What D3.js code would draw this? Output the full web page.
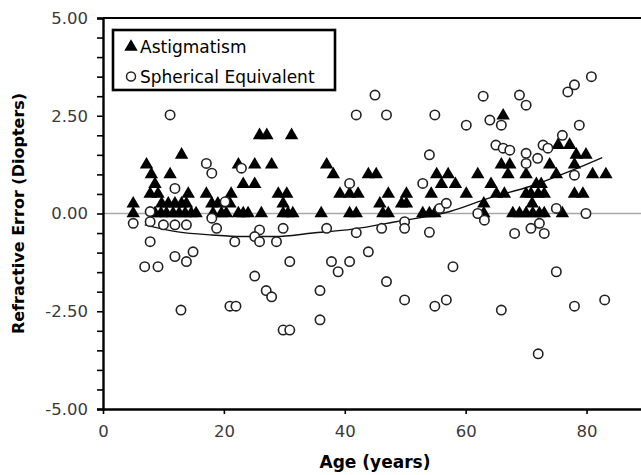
<!DOCTYPE html>
<html>
<head>
<meta charset="utf-8">
<script src="https://cdn.jsdelivr.net/npm/d3@7"></script>
<style>
body { margin: 0; background: #fff; }
svg { display: block; }
text { font-family: "DejaVu Sans", Verdana, sans-serif; }
</style>
</head>
<body>
<svg id="chart" width="641" height="475"></svg>
<script>
// astigmatism: [age, diopters]
var astigmatism = [
[5,0.25],[5,0],[7.2,1.25],[8,1.0],[7.8,0.5],[9.1,0.5],[8.6,0.75],[9.7,0.25],[10.8,0.25],[11.9,0.25],
[13,0.25],[11.1,1.0],[13,1.5],[14.1,0.5],[13.8,0.25],[8.6,0],[9.6,0],[10.5,0],[11.6,0],[12.6,0],
[13.6,0],[14.6,0],[15.4,0],[17.1,0.5],[18,0.25],[19,0.25],[18.2,0],[19.6,0],[21,0.25],[21.2,0.5],
[20.4,0],[22.4,1.25],[25.1,1.25],[27.9,1.25],[25.9,2.0],[27.1,2.0],[31.2,2.0],[23.2,0.75],[25.1,0.75],
[22.4,0],[23.2,0],[24,0],[26.2,0],[29,0.5],[30.4,0.5],[29.8,0.25],[29.8,0],[30.6,0],[31.4,0],
[36.1,0],[37,1.25],[38.1,1.0],[39.2,0.5],[40.8,0.5],[42.2,0.5],[40.8,0],[41.9,0],[43.9,1.0],[45.2,1.0],
[45.8,0.25],[46.3,0],[47.2,0],[47.2,0.5],[49.4,0.25],[50.2,0.25],[50.2,0.5],[52.9,0],[54,0],[54.9,0],
[54.3,0.5],[55.2,1.0],[57.1,1.0],[56,0.75],[58.3,0.75],[60.1,0.5],[62,1.0],[63,0.25],[63,0],[64.2,0.75],
[65.1,0.5],[65.9,1.25],[66.2,2.5],[66.4,0.5],[67.3,1.25],[67,1.0],[67.8,0],[68.9,0],[70,0],[71.1,0],
[72.2,0],[73,0],[70,1.0],[70,0.5],[70.8,0.5],[72,0.5],[73,0.5],[71.7,0.75],[72.5,0.75],[71,0.25],
[73.9,1.25],[75,1.0],[75.3,1.75],[77.2,1.75],[78.3,1.5],[79.9,1.5],[78,1.25],[76,0],[78,0.5],[79.4,0.5],
[81,1.0],[83.2,1.0]
];

// spherical equivalent: [age, diopters]
var spherical = [
[5,-0.25],[7.8,0.05],[7.8,-0.21],[10,-0.29],[11.9,-0.29],[13.8,-0.29],[7.8,-0.72],[6.9,-1.36],[9.1,-1.36],
[11.1,2.52],[11.9,0.64],[11.9,-1.1],[13.8,-1.23],[14.9,-0.98],[12.9,-2.47],[17.1,1.28],[18,1.03],
[18,-0.12],[18.8,-0.38],[20.2,0.3],[21.8,-0.72],[21,-2.37],[22,-2.37],[22.9,1.16],[25.1,-1.6],
[25.9,-0.42],[25.1,-0.59],[25.9,-0.72],[27,-1.97],[27.9,-2.13],[28.7,-0.72],[29.8,-0.38],[29.8,-2.98],
[30.9,-2.98],[30.9,-1.23],[35.9,-1.97],[35.9,-2.72],[37,-0.38],[37.8,-1.23],[38.9,-1.49],[40.8,-1.23],
[40.8,0.77],[41.9,-0.49],[41.9,2.52],[43.9,-0.98],[45,3.03],[46.1,-0.38],[46.9,-1.74],[46.9,2.52],
[49.9,-0.21],[49.9,-0.38],[49.9,-2.21],[52.9,0.77],[54,1.5],[54,-0.48],[54.9,2.52],[54.9,-2.37],
[55.7,0.13],[56.8,0.26],[56.8,-2.21],[57.9,-1.36],[60.1,2.26],[62,0],[62.9,3.0],[63.1,-0.17],
[64,2.39],[65,1.75],[65.9,2.26],[66.2,1.67],[65.9,-2.47],[67.3,1.62],[68.1,-0.51],[68.9,3.03],
[70,2.77],[70,1.54],[70,1.28],[71.9,1.41],[70.8,-0.38],[72.2,-0.25],[73,-0.51],[72,-3.59],[72.8,1.75],
[73.6,1.67],[75,0.13],[75,-1.49],[76,2.0],[76.9,3.11],[78,3.29],[78,0.98],[78,-2.37],[78.8,2.26],
[79.9,0],[80.8,3.5],[83,-2.21]
];

// polynomial trendline of spherical equivalent
var trendAge = [6.9, 12.4, 18, 23, 28.4, 34.7, 41.3, 48.5, 57.4, 64, 70.6, 77.7, 82.6];
var trendVal = [-0.29, -0.47, -0.55, -0.59, -0.59, -0.5, -0.4, -0.21, 0.05, 0.4, 0.69, 1.11, 1.43];

var yTicks = d3.range(-5, 5.01, 0.5);
var xTicks = [0, 20, 40, 60, 80];

var svg = d3.select("#chart");

var x = d3.scaleLinear().domain([0, 90]).range([103, 647]);
var y = d3.scaleLinear().domain([-5, 5]).range([409, 18]);

// zero line
svg.append("line")
.attr("x1", x(0)).attr("x2", x(90))
.attr("y1", y(0)).attr("y2", y(0))
.attr("stroke", "#a8a8a8").attr("stroke-width", 1.6);

// top frame line
svg.append("line")
.attr("x1", x(0)).attr("x2", x(90))
.attr("y1", y(5)).attr("y2", y(5))
.attr("stroke", "#000").attr("stroke-width", 2.2);

var yAxis = svg.append("g")
.attr("transform", `translate(${x(0)},0)`)
.call(d3.axisLeft(y)
.tickValues(yTicks)
.tickSize(6)
.tickPadding(9)
.tickFormat(d => (Math.abs(d % 2.5) < 1e-9) ? d.toFixed(2) : ""));

var xAxis = svg.append("g")
.attr("transform", `translate(0,${y(-5)})`)
.call(d3.axisBottom(x)
.tickValues(xTicks)
.tickSize(5)
.tickPadding(11)
.tickSizeOuter(0));

[yAxis, xAxis].forEach(function(g) {
g.select(".domain").attr("stroke", "#000").attr("stroke-width", 2.4);
g.selectAll(".tick line").attr("stroke", "#000").attr("stroke-width", 1.6);
g.selectAll(".tick text")
.attr("fill", "#3a3a3a")
.attr("font-size", 16.5)
.attr("font-family", "DejaVu Sans, sans-serif");
});

// trendline
svg.append("path")
.datum(d3.zip(trendAge, trendVal))
.attr("fill", "none")
.attr("stroke", "#111")
.attr("stroke-width", 1.4)
.attr("d", d3.line()
.x(d => x(d[0]))
.y(d => y(d[1]))
.curve(d3.curveMonotoneX));

var tri = d3.symbol().type(d3.symbolTriangle).size(78);

svg.append("g")
.selectAll("path")
.data(astigmatism)
.join("path")
.attr("transform", d => `translate(${x(d[0])},${y(d[1])})`)
.attr("d", tri)
.attr("fill", "#000");

svg.append("g")
.selectAll("circle")
.data(spherical)
.join("circle")
.attr("cx", d => x(d[0]))
.attr("cy", d => y(d[1]))
.attr("r", 4.7)
.attr("fill", "#fff")
.attr("stroke", "#222")
.attr("stroke-width", 1.6);

// legend
var legend = svg.append("g");
legend.append("rect")
.attr("x", 113).attr("y", 30)
.attr("width", 222).attr("height", 60)
.attr("fill", "#fff")
.attr("stroke", "#000")
.attr("stroke-width", 2.6);
legend.append("path")
.attr("transform", "translate(131,47)")
.attr("d", tri)
.attr("fill", "#000");
legend.append("text")
.attr("x", 140).attr("y", 53)
.attr("font-size", 17)
.text("Astigmatism");
legend.append("circle")
.attr("cx", 131).attr("cy", 76.5)
.attr("r", 4.5)
.attr("fill", "#fff")
.attr("stroke", "#222")
.attr("stroke-width", 1.5);
legend.append("text")
.attr("x", 140).attr("y", 82.5)
.attr("font-size", 17)
.text("Spherical Equivalent");

// axis titles
svg.append("text")
.attr("x", x(45)).attr("y", 468)
.attr("text-anchor", "middle")
.attr("font-size", 17)
.attr("font-weight", "bold")
.text("Age (years)");

svg.append("text")
.attr("transform", `translate(24,${y(0)}) rotate(-90)`)
.attr("text-anchor", "middle")
.attr("font-size", 16)
.attr("font-weight", "bold")
.text("Refractive Error (Diopters)");
</script>
</body>
</html>
